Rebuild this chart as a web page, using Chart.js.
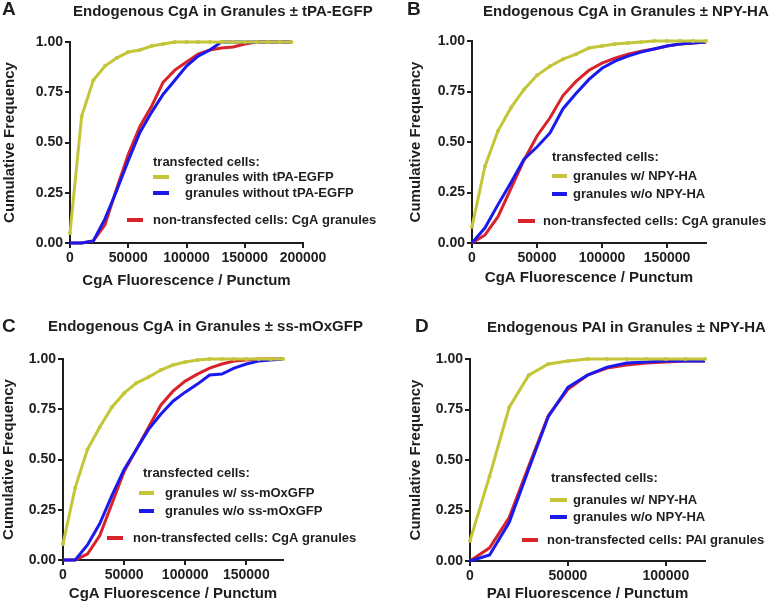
<!DOCTYPE html>
<html>
<head>
<meta charset="utf-8">
<script src="https://cdn.jsdelivr.net/npm/chart.js@4.4.1/dist/chart.umd.min.js"></script>
<style>
  body { margin: 0; background: #fff; }
  #wrap { position: relative; width: 770px; height: 605px; background: #fff; }
  canvas { position: absolute; }
</style>
</head>
<body>
<div id="wrap">
  <canvas id="panelA" width="385" height="300" style="left:0px;top:0px"></canvas>
  <canvas id="panelB" width="385" height="300" style="left:385px;top:0px"></canvas>
  <canvas id="panelC" width="385" height="305" style="left:0px;top:300px"></canvas>
  <canvas id="panelD" width="385" height="305" style="left:385px;top:300px"></canvas>
</div>
<script>
// fluorescence bins (x) for each panel
var binsA = [0, 10000, 20000, 30000, 40000, 50000, 60000, 70000, 80000, 90000, 100000,
             110000, 120000, 130000, 140000, 150000, 160000, 170000, 180000, 190000];
var binsB = [0, 10000, 20000, 30000, 40000, 50000, 60000, 70000, 80000, 90000, 100000,
             110000, 120000, 130000, 140000, 150000, 160000, 170000, 180000];
var binsC = [0, 10000, 20000, 30000, 40000, 50000, 60000, 70000, 80000, 90000, 100000,
             110000, 120000, 130000, 140000, 150000, 160000, 170000, 180000];
var binsD = [0, 10000, 20000, 30000, 40000, 50000, 60000, 70000, 80000, 90000, 100000,
             110000, 120000];

// cumulative frequencies
var withA    = [0.05, 0.63, 0.81, 0.88, 0.92, 0.95, 0.96, 0.98, 0.99, 1, 1, 1, 1, 1, 1, 1, 1, 1, 1, 1];
var withoutA = [0, 0, 0.01, 0.12, 0.26, 0.41, 0.55, 0.65, 0.74, 0.81, 0.88, 0.93, 0.96, 1, 1, 1, 1, 1, 1, 1];
var nonA     = [0, 0, 0.01, 0.09, 0.27, 0.44, 0.58, 0.68, 0.80, 0.86, 0.90, 0.94, 0.96, 0.97, 0.975, 0.99, 1, 1, 1, 1];

var withB    = [0.08, 0.38, 0.555, 0.67, 0.76, 0.83, 0.875, 0.91, 0.935, 0.965, 0.975, 0.985, 0.99, 0.995, 1, 1, 1, 1, 1];
var withoutB = [0, 0.075, 0.19, 0.30, 0.415, 0.475, 0.545, 0.665, 0.74, 0.81, 0.865, 0.90, 0.925, 0.945, 0.96, 0.975, 0.985, 0.99, 0.995];
var nonB     = [0, 0.04, 0.13, 0.27, 0.41, 0.53, 0.62, 0.73, 0.80, 0.855, 0.89, 0.915, 0.935, 0.95, 0.96, 0.975, 0.985, 0.99, 0.995];

var withC    = [0.08, 0.36, 0.55, 0.66, 0.76, 0.83, 0.88, 0.91, 0.945, 0.97, 0.985, 0.995, 1, 1, 1, 1, 1, 1, 1];
var withoutC = [0, 0, 0.075, 0.18, 0.32, 0.45, 0.55, 0.65, 0.725, 0.79, 0.835, 0.875, 0.92, 0.925, 0.955, 0.975, 0.99, 0.995, 1];
var nonC     = [0, 0, 0.03, 0.12, 0.28, 0.44, 0.55, 0.66, 0.77, 0.84, 0.89, 0.925, 0.955, 0.975, 0.99, 0.995, 1, 1, 1];

var withD    = [0.10, 0.42, 0.76, 0.92, 0.975, 0.99, 1, 1, 1, 1, 1, 1, 1];
var withoutD = [0, 0.03, 0.19, 0.455, 0.715, 0.86, 0.92, 0.96, 0.98, 0.985, 0.99, 0.99, 0.99];
var nonD     = [0, 0.065, 0.215, 0.47, 0.72, 0.85, 0.92, 0.955, 0.97, 0.98, 0.985, 0.99, 0.99];

// axis tick labels
var yTicks = [0, 0.25, 0.5, 0.75, 1];
var xTicksA = [0, 50000, 100000, 150000, 200000];
var xTicksB = [0, 50000, 100000, 150000];
var xTicksC = [0, 50000, 100000, 150000];
var xTicksD = [0, 50000, 100000];

var titles = [
  'Endogenous CgA in Granules \u00b1 tPA-EGFP',
  'Endogenous CgA in Granules \u00b1 NPY-HA',
  'Endogenous CgA in Granules \u00b1 ss-mOxGFP',
  'Endogenous PAI in Granules \u00b1 NPY-HA'
];
var letters = ['A', 'B', 'C', 'D'];
var xTitles = ['CgA Fluorescence / Punctum', 'CgA Fluorescence / Punctum',
               'CgA Fluorescence / Punctum', 'PAI Fluorescence / Punctum'];
var legendHeader = 'transfected cells:';
var withLabels = ['granules with tPA-EGFP', 'granules w/ NPY-HA', 'granules w/ ss-mOxGFP', 'granules w/ NPY-HA'];
var withoutLabels = ['granules without tPA-EGFP', 'granules w/o NPY-HA', 'granules w/o ss-mOxGFP', 'granules w/o NPY-HA'];
var nonLabels = ['non-transfected cells: CgA granules', 'non-transfected cells: CgA granules',
                 'non-transfected cells: CgA granules', 'non-transfected cells: PAI granules'];

var YELLOW = '#c4c63a';
var BLUE = '#1a1aee';
var RED = '#d9232a';
var INK = '#1e1e1e';
var FONT = '"Liberation Sans", Arial, sans-serif';

var toPoints = function (xs, ys) {
  return xs.map(function (x, i) { return { x: x, y: ys[i] }; });
};

// panel layout (canvas-relative pixels)
var layouts = [
  { id: 'panelA', bins: binsA, data: [withA, withoutA, nonA], xMax: 200000, xTicks: xTicksA,
    pad: { top: 42, right: 82, left: 0, bottom: 0 }, yW: 70, xH: 57, yTitlePad: 1, xTitlePad: 10,
    letter: [2, 10], title: [73, 12],
    leg: { head: [153, 162], sw1: 153, sw2: 169, txt: 185, y1: 177, y2: 193, rsw1: 127, rsw2: 143, rtxt: 153, y3: 220 } },
  { id: 'panelB', bins: binsB, data: [withB, withoutB, nonB], xMax: 180000, xTicks: xTicksB,
    pad: { top: 41, right: 64, left: 0, bottom: 0 }, yW: 87, xH: 57, yTitlePad: 22, xTitlePad: 13,
    letter: [22, 10], title: [98, 12],
    leg: { head: [167, 157], sw1: 167, sw2: 182, txt: 188, y1: 176, y2: 194, rsw1: 133, rsw2: 150, rtxt: 158, y3: 221 } },
  { id: 'panelC', bins: binsC, data: [withC, withoutC, nonC], xMax: 180000, xTicks: xTicksC,
    pad: { top: 59, right: 102, left: 0, bottom: 0 }, yW: 63, xH: 45, yTitlePad: 0, xTitlePad: 2,
    letter: [2, 27], title: [48, 27],
    leg: { head: [143, 173], sw1: 139, sw2: 154, txt: 165, y1: 193, y2: 211, rsw1: 107, rsw2: 123, rtxt: 133, y3: 238 } },
  { id: 'panelD', bins: binsD, data: [withD, withoutD, nonD], xMax: 120000, xTicks: xTicksD,
    pad: { top: 59, right: 65, left: 0, bottom: 0 }, yW: 85, xH: 44, yTitlePad: 22, xTitlePad: 2,
    letter: [30, 27], title: [102, 28],
    leg: { head: [166, 178], sw1: 165, sw2: 182, txt: 188, y1: 200, y2: 217, rsw1: 137, rsw2: 153, rtxt: 162, y3: 240 } }
];

var makePanel = function (L, k) {
  var ctx = document.getElementById(L.id).getContext('2d');

  var decor = {
    id: 'decor',
    afterDraw: function (chart) {
      var c = chart.ctx;
      var g = L.leg;
      c.save();
      c.fillStyle = INK;
      c.textBaseline = 'middle';
      c.textAlign = 'left';
      c.font = 'bold 19px ' + FONT;
      c.fillText(letters[k], L.letter[0], L.letter[1]);
      c.font = 'bold 15px ' + FONT;
      c.fillText(titles[k], L.title[0], L.title[1]);

      c.font = 'bold 13px ' + FONT;
      c.fillText(legendHeader, g.head[0], g.head[1]);
      c.fillText(withLabels[k], g.txt, g.y1);
      c.fillText(withoutLabels[k], g.txt, g.y2);
      c.fillText(nonLabels[k], g.rtxt, g.y3);

      c.lineWidth = 4;
      var swatch = function (x1, x2, y, col) {
        c.strokeStyle = col;
        c.beginPath();
        c.moveTo(x1, y);
        c.lineTo(x2, y);
        c.stroke();
      };
      swatch(g.sw1, g.sw2, g.y1, YELLOW);
      swatch(g.sw1, g.sw2, g.y2, BLUE);
      swatch(g.rsw1, g.rsw2, g.y3, RED);
      c.restore();
    }
  };

  var config = {
    type: 'line',
    data: {
      datasets: [
        { label: withLabels[k], data: toPoints(L.bins, L.data[0]), borderColor: YELLOW,
          backgroundColor: YELLOW, borderWidth: 3, pointRadius: 2, pointBorderWidth: 0,
          pointBackgroundColor: YELLOW, tension: 0, clip: false },
        { label: withoutLabels[k], data: toPoints(L.bins, L.data[1]), borderColor: BLUE,
          borderWidth: 3, pointRadius: 0, tension: 0, clip: false },
        { label: nonLabels[k], data: toPoints(L.bins, L.data[2]), borderColor: RED,
          borderWidth: 3, pointRadius: 0, tension: 0, clip: false }
      ]
    },
    options: {
      responsive: false,
      animation: false,
      layout: { padding: L.pad },
      plugins: { legend: { display: false }, tooltip: { enabled: false } },
      scales: {
        x: {
          type: 'linear',
          min: 0,
          max: L.xMax,
          afterFit: function (s) { s.height = L.xH; },
          afterBuildTicks: function (s) { s.ticks = L.xTicks.map(function (v) { return { value: v }; }); },
          border: { display: true, color: INK, width: 2 },
          grid: { drawOnChartArea: false, drawTicks: true, tickLength: 5, color: INK, lineWidth: 2 },
          ticks: { maxRotation: 0, autoSkip: false,
                   padding: 2, color: INK, font: { family: FONT, size: 14, weight: 'bold' },
                   callback: function (v) { return String(v); } },
          title: { display: true, text: xTitles[k], color: INK,
                   padding: { top: 0, bottom: L.xTitlePad },
                   font: { family: FONT, size: 15, weight: 'bold' } }
        },
        y: {
          min: 0,
          max: 1,
          afterFit: function (s) { s.width = L.yW; },
          afterBuildTicks: function (s) { s.ticks = yTicks.map(function (v) { return { value: v }; }); },
          border: { display: true, color: INK, width: 2 },
          grid: { drawOnChartArea: false, drawTicks: true, tickLength: 5, color: INK, lineWidth: 2 },
          ticks: { padding: 2, color: INK, font: { family: FONT, size: 14, weight: 'bold' },
                   callback: function (v) { return Number(v).toFixed(2); } },
          title: { display: true, text: 'Cumulative Frequency', color: INK,
                   padding: { top: L.yTitlePad, bottom: 0 },
                   font: { family: FONT, size: 15, weight: 'bold' } }
        }
      }
    },
    plugins: [decor]
  };

  return new Chart(ctx, config);
};

layouts.forEach(function (L, k) { makePanel(L, k); });
</script>
</body>
</html>
